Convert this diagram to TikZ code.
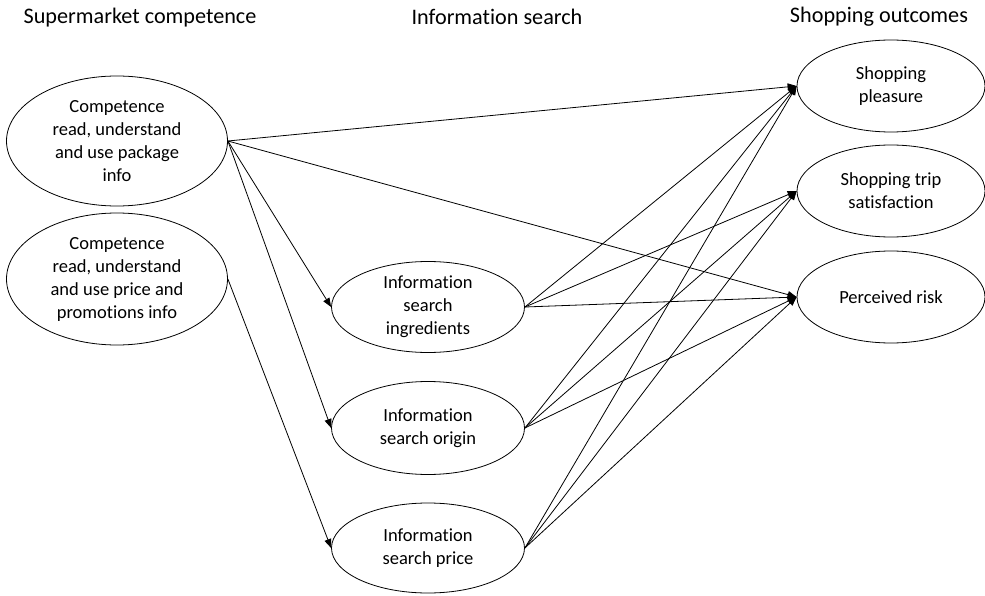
\documentclass[tikz,border=0pt]{standalone}
\usepackage{fontspec}
\setmainfont{Carlito}[Ligatures=NoCommon]
\usetikzlibrary{shapes.geometric, arrows.meta}

\begin{document}
\begin{tikzpicture}[x=1pt, y=-1pt,
    construct/.style={draw, ellipse, inner sep=0pt, align=center, line width=0.8pt,
        font=\fontsize{18.5}{23}\selectfont},
    heading/.style={font=\fontsize{22.2}{26}\selectfont},
    link/.style={-{Triangle[length=9pt, width=7pt]}, line width=0.8pt}]
    \useasboundingbox (0,0) rectangle (985,596);

    % Headings
    \node[heading] (hcomp) at (140,18) {Supermarket competence};
    \node[heading] (hsearch) at (497,17) {Information search};
    \node[heading] (hout) at (879,17) {Shopping outcomes};

    % Competence
    \node[construct, minimum width=221pt, minimum height=130pt] (package) at (117,141)
        {Competence\\read, understand\\and use package\\info};
    \node[construct, minimum width=221pt, minimum height=132pt] (promo) at (117,279)
        {Competence\\read, understand\\and use price and\\promotions info};

    % Information search
    \node[construct, minimum width=193pt, minimum height=91pt] (ingred) at (428,307)
        {Information\\search\\ingredients};
    \node[construct, minimum width=193pt, minimum height=93pt] (origin) at (428,428)
        {Information\\search origin};
    \node[construct, minimum width=193pt, minimum height=90pt] (sprice) at (428,548)
        {Information\\search price};

    % Outcomes
    \node[construct, minimum width=188pt, minimum height=92pt] (pleasure) at (891,86)
        {Shopping\\pleasure};
    \node[construct, minimum width=188pt, minimum height=92pt] (satis) at (891,191)
        {Shopping trip\\satisfaction};
    \node[construct, minimum width=188pt, minimum height=92pt] (risk) at (891,297)
        {Perceived risk};

    % Paths
    \draw[link] (package.east) -- (pleasure.west);
    \draw[link] (package.east) -- (risk.west);
    \draw[link] (package.east) -- (ingred.west);
    \draw[link] (package.east) -- (origin.west);
    \draw[link] (promo.east) -- (sprice.west);
    \foreach \src in {ingred, origin, sprice} {
        \foreach \dst in {pleasure, satis, risk} {
            \draw[link] (\src.east) -- (\dst.west);
        }
    }
\end{tikzpicture}
\end{document}
